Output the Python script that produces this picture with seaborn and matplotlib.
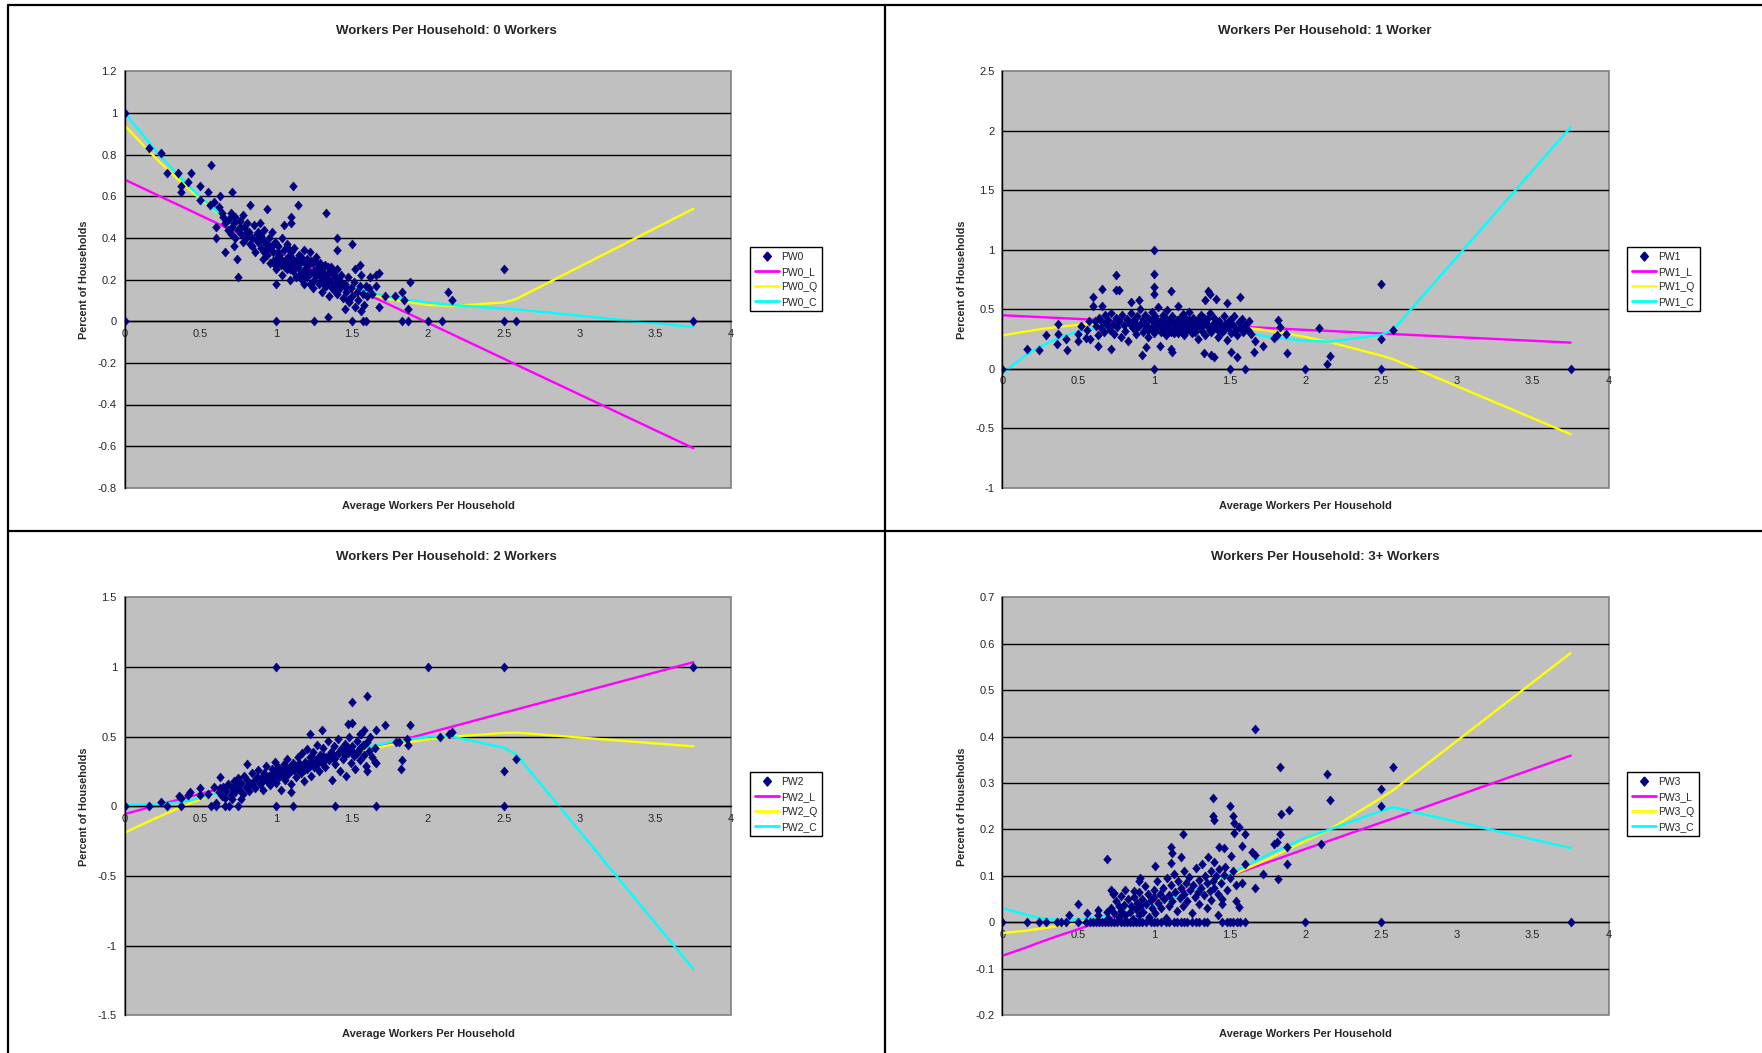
import matplotlib
matplotlib.use("Agg")
import matplotlib.pyplot as plt
from matplotlib.lines import Line2D
from matplotlib.patches import Rectangle
from matplotlib.ticker import FuncFormatter, MultipleLocator
import seaborn as sns

sns.set_style("white")
plt.rcParams['font.family'] = ['Liberation Sans', 'DejaVu Sans']
plt.rcParams['axes.unicode_minus'] = False

# ---------------- data ----------------
titles = ["Workers Per Household: 0 Workers", "Workers Per Household: 1 Worker",
          "Workers Per Household: 2 Workers", "Workers Per Household: 3+ Workers"]
series_names = ["PW0", "PW1", "PW2", "PW3"]
x_label = "Average Workers Per Household"
y_label = "Percent of Households"

pw0_x = [
    0, 0, 0.16, 0.24, 0.28, 0.35, 0.37, 0.37, 0.42, 0.44,
    0.50, 0.50, 0.55, 0.57, 0.56, 0.59, 0.62, 0.63, 0.60, 0.60,
    0.64, 0.66, 0.71, 0.72, 0.74, 0.75, 0.83, 0.94, 1.00, 1.00,
    1.05, 1.11, 1.10, 1.10, 1.14, 1.25, 1.33, 1.34, 1.40, 1.40,
    1.50, 1.50, 1.57, 1.59, 1.83, 1.87, 2.00, 2.09, 2.50, 2.58,
    3.75, 2.50, 2.13, 2.16, 1.88, 1.87, 1.83, 1.84, 1.78, 1.72,
    1.68, 1.66, 1.66, 1.68, 1.62, 1.55, 1.56, 1.52, 1.45, 1.47,
    0.65, 0.66, 0.68, 0.69, 0.70, 0.70, 0.72, 0.73, 0.73, 0.75,
    0.76, 0.77, 0.78, 0.78, 0.79, 0.80, 0.81, 0.82, 0.83, 0.84,
    0.85, 0.86, 0.87, 0.88, 0.89, 0.90, 0.90, 0.91, 0.92, 0.93,
    0.94, 0.95, 0.96, 0.96, 0.97, 0.98, 0.99, 1.00, 1.00, 1.01,
    1.02, 1.03, 1.04, 1.04, 1.05, 1.06, 1.07, 1.07, 1.08, 1.09,
    1.10, 1.10, 1.11, 1.12, 1.13, 1.13, 1.14, 1.15, 1.16, 1.17,
    1.18, 1.18, 1.19, 1.20, 1.20, 1.21, 1.22, 1.23, 1.24, 1.24,
    1.25, 1.26, 1.27, 1.28, 1.28, 1.29, 1.30, 1.30, 1.31, 1.32,
    1.33, 1.34, 1.35, 1.35, 1.36, 1.37, 1.38, 1.39, 1.40, 1.40,
    1.41, 1.42, 1.43, 1.44, 1.45, 1.46, 1.47, 1.48, 1.49, 1.50,
    1.51, 1.52, 1.53, 1.54, 1.55, 1.56, 1.57, 1.58, 1.59, 1.60,
    0.95, 0.98, 1.01, 1.03, 1.06, 1.08, 1.11, 1.14, 1.16, 1.19,
    1.21, 1.23, 1.26, 1.27, 1.29, 1.31, 1.32, 1.34, 1.36, 1.38,
    0.88, 0.91, 0.93, 1.05, 1.09, 1.17, 1.22, 1.33, 1.37, 1.43,
    0.81, 0.84, 0.87, 0.92, 0.97, 1.02, 1.12, 1.15, 1.19, 1.25,
    1.28, 1.33, 1.39, 1.42, 1.46, 0.76, 0.71, 0.99, 1.08, 1.31,
    1.61, 1.63,
]
pw0_y = [
    1.00, 0.00, 0.83, 0.81, 0.71, 0.71, 0.65, 0.62, 0.67, 0.71,
    0.65, 0.58, 0.62, 0.75, 0.56, 0.57, 0.55, 0.60, 0.45, 0.40,
    0.52, 0.33, 0.62, 0.36, 0.30, 0.21, 0.56, 0.54, 0.18, 0.00,
    0.46, 0.65, 0.50, 0.47, 0.56, 0.00, 0.52, 0.02, 0.40, 0.34,
    0.37, 0.00, 0.00, 0.00, 0.00, 0.00, 0.00, 0.00, 0.00, 0.00,
    0.00, 0.25, 0.14, 0.10, 0.19, 0.06, 0.14, 0.10, 0.12, 0.12,
    0.07, 0.17, 0.22, 0.23, 0.21, 0.27, 0.05, 0.07, 0.06, 0.10,
    0.50, 0.47, 0.44, 0.49, 0.52, 0.42, 0.47, 0.50, 0.40, 0.44,
    0.48, 0.42, 0.38, 0.51, 0.45, 0.40, 0.47, 0.43, 0.37, 0.40,
    0.46, 0.33, 0.42, 0.38, 0.47, 0.35, 0.41, 0.30, 0.44, 0.37,
    0.32, 0.40, 0.35, 0.28, 0.43, 0.33, 0.38, 0.30, 0.25, 0.36,
    0.32, 0.27, 0.40, 0.22, 0.34, 0.29, 0.25, 0.37, 0.31, 0.20,
    0.28, 0.33, 0.24, 0.35, 0.29, 0.21, 0.26, 0.32, 0.23, 0.29,
    0.18, 0.34, 0.25, 0.30, 0.21, 0.27, 0.33, 0.23, 0.16, 0.28,
    0.20, 0.31, 0.25, 0.18, 0.22, 0.28, 0.14, 0.24, 0.20, 0.27,
    0.17, 0.23, 0.12, 0.20, 0.26, 0.16, 0.22, 0.18, 0.13, 0.25,
    0.20, 0.16, 0.22, 0.11, 0.18, 0.14, 0.21, 0.09, 0.16, 0.12,
    0.19, 0.25, 0.14, 0.10, 0.17, 0.22, 0.13, 0.08, 0.17, 0.12,
    0.36, 0.29, 0.33, 0.30, 0.26, 0.35, 0.30, 0.27, 0.31, 0.22,
    0.24, 0.29, 0.22, 0.28, 0.19, 0.23, 0.17, 0.26, 0.19, 0.15,
    0.43, 0.39, 0.34, 0.28, 0.25, 0.20, 0.18, 0.21, 0.24, 0.19,
    0.43, 0.36, 0.39, 0.33, 0.36, 0.29, 0.26, 0.22, 0.28, 0.24,
    0.26, 0.19, 0.21, 0.17, 0.16, 0.45, 0.45, 0.27, 0.27, 0.22,
    0.16, 0.13,
]

pw1_x = [
    0, 1.00, 1.00, 0.75, 0.66, 0.75, 0.77, 0.60, 0.60, 0.66,
    1.00, 1.00, 1.11, 1.36, 1.37, 1.41, 1.34, 1.48, 1.57, 0.37,
    0.29, 0.37, 0.16, 0.24, 0.36, 0.42, 0.43, 0.50, 0.50, 0.56,
    0.55, 0.58, 0.63, 0.72, 0.63, 1.00, 0.92, 0.95, 1.04, 1.11,
    1.12, 1.33, 1.40, 1.38, 1.51, 1.55, 1.50, 1.60, 1.66, 1.72,
    1.67, 1.79, 1.81, 1.82, 1.88, 1.87, 1.83, 2.00, 2.09, 2.14,
    2.16, 2.50, 2.50, 2.50, 2.58, 3.75, 0.52, 0.57, 0.90, 0.85,
    0.61, 0.62, 0.64, 0.65, 0.66, 0.67, 0.68, 0.69, 0.70, 0.71,
    0.72, 0.73, 0.74, 0.75, 0.76, 0.77, 0.78, 0.79, 0.80, 0.81,
    0.82, 0.83, 0.84, 0.85, 0.86, 0.87, 0.88, 0.89, 0.90, 0.91,
    0.92, 0.93, 0.94, 0.95, 0.96, 0.97, 0.98, 0.99, 1.00, 1.00,
    1.01, 1.02, 1.03, 1.04, 1.05, 1.06, 1.07, 1.08, 1.08, 1.09,
    1.10, 1.11, 1.12, 1.13, 1.14, 1.15, 1.16, 1.17, 1.18, 1.19,
    1.20, 1.20, 1.21, 1.22, 1.23, 1.24, 1.25, 1.26, 1.27, 1.28,
    1.29, 1.30, 1.31, 1.32, 1.33, 1.34, 1.35, 1.36, 1.37, 1.38,
    1.39, 1.40, 1.41, 1.42, 1.43, 1.44, 1.45, 1.46, 1.47, 1.48,
    1.49, 1.50, 1.51, 1.52, 1.53, 1.54, 1.55, 1.56, 1.57, 1.58,
    1.59, 1.60, 1.62, 1.63, 1.64, 1.05, 1.10, 1.15, 1.22, 1.28,
    1.02, 1.07, 1.13, 1.18, 1.25, 1.31, 1.36, 1.42, 0.95, 0.88,
    0.86, 0.89, 0.93, 0.96, 0.99, 1.03, 1.06, 1.09, 1.12, 1.14,
    1.17, 1.19, 1.21, 1.24, 1.26, 1.29, 1.32, 1.34, 1.37, 1.39,
    1.43, 1.46, 1.49, 1.01, 1.11, 1.16, 1.23, 1.27, 1.33, 1.41,
]
pw1_y = [
    0.00, 1.00, 0.80, 0.79, 0.67, 0.66, 0.66, 0.60, 0.53, 0.53,
    0.69, 0.63, 0.65, 0.65, 0.63, 0.59, 0.58, 0.55, 0.60, 0.38,
    0.28, 0.29, 0.17, 0.16, 0.21, 0.25, 0.16, 0.29, 0.23, 0.33,
    0.26, 0.25, 0.19, 0.17, 0.28, 0.00, 0.12, 0.18, 0.19, 0.17,
    0.14, 0.13, 0.10, 0.12, 0.14, 0.10, 0.00, 0.00, 0.14, 0.19,
    0.23, 0.26, 0.28, 0.41, 0.13, 0.29, 0.35, 0.00, 0.34, 0.04,
    0.11, 0.71, 0.25, 0.00, 0.33, 0.00, 0.36, 0.40, 0.58, 0.56,
    0.40, 0.36, 0.43, 0.34, 0.39, 0.31, 0.45, 0.37, 0.41, 0.33,
    0.47, 0.38, 0.29, 0.43, 0.35, 0.40, 0.27, 0.45, 0.37, 0.32,
    0.42, 0.23, 0.38, 0.47, 0.34, 0.41, 0.29, 0.44, 0.36, 0.50,
    0.39, 0.31, 0.45, 0.37, 0.27, 0.42, 0.34, 0.48, 0.39, 0.30,
    0.44, 0.35, 0.52, 0.40, 0.31, 0.45, 0.37, 0.28, 0.42, 0.49,
    0.34, 0.39, 0.44, 0.30, 0.37, 0.41, 0.53, 0.33, 0.39, 0.46,
    0.28, 0.36, 0.42, 0.33, 0.48, 0.38, 0.30, 0.43, 0.35, 0.40,
    0.25, 0.37, 0.45, 0.32, 0.39, 0.28, 0.42, 0.35, 0.47, 0.31,
    0.38, 0.43, 0.34, 0.27, 0.40, 0.36, 0.31, 0.44, 0.38, 0.24,
    0.35, 0.41, 0.30, 0.37, 0.44, 0.33, 0.28, 0.39, 0.35, 0.42,
    0.31, 0.37, 0.33, 0.40, 0.29, 0.36, 0.41, 0.35, 0.38, 0.34,
    0.40, 0.33, 0.38, 0.32, 0.35, 0.40, 0.37, 0.33, 0.34, 0.38,
    0.40, 0.35, 0.42, 0.33, 0.41, 0.38, 0.32, 0.36, 0.40, 0.33,
    0.43, 0.36, 0.38, 0.34, 0.39, 0.42, 0.36, 0.40, 0.33, 0.35,
    0.36, 0.33, 0.39, 0.34, 0.31, 0.30, 0.41, 0.31, 0.43, 0.39,
]

pw2_x = [
    0, 0.16, 0.24, 0.28, 0.36, 0.37, 0.37, 0.42, 0.43, 0.50,
    0.50, 0.55, 0.59, 0.57, 0.60, 0.60, 0.63, 0.63, 0.66, 0.66,
    0.69, 0.75, 0.71, 0.77, 0.81, 1.00, 1.00, 1.11, 1.10, 1.39,
    1.66, 1.50, 1.60, 1.30, 1.22, 1.47, 1.50, 1.66, 1.72, 1.88,
    1.87, 1.86, 1.81, 1.79, 1.83, 1.82, 1.65, 1.66, 1.60, 2.00,
    2.50, 2.08, 2.14, 2.16, 2.50, 2.58, 2.50, 3.75, 1.58, 1.55,
    0.62, 0.64, 0.65, 0.67, 0.68, 0.70, 0.71, 0.72, 0.73, 0.74,
    0.75, 0.76, 0.77, 0.78, 0.79, 0.80, 0.81, 0.82, 0.83, 0.84,
    0.85, 0.86, 0.87, 0.88, 0.89, 0.90, 0.91, 0.92, 0.93, 0.94,
    0.95, 0.96, 0.97, 0.98, 0.99, 1.00, 1.00, 1.01, 1.02, 1.03,
    1.04, 1.05, 1.06, 1.07, 1.08, 1.09, 1.10, 1.11, 1.12, 1.13,
    1.14, 1.15, 1.16, 1.17, 1.18, 1.19, 1.20, 1.20, 1.21, 1.22,
    1.23, 1.24, 1.25, 1.26, 1.27, 1.28, 1.29, 1.30, 1.31, 1.32,
    1.33, 1.34, 1.35, 1.36, 1.37, 1.38, 1.39, 1.40, 1.41, 1.42,
    1.43, 1.44, 1.45, 1.46, 1.47, 1.48, 1.49, 1.50, 1.51, 1.52,
    1.53, 1.54, 1.55, 1.56, 1.57, 1.58, 1.59, 1.60, 1.61, 1.62,
    1.63, 1.65, 1.02, 1.08, 1.15, 1.22, 1.28, 1.35, 1.44, 0.97,
    1.05, 1.12, 1.18, 1.25, 1.31, 1.38, 1.47, 1.53, 0.90, 0.84,
    0.92, 0.96, 1.01, 1.06, 1.10, 1.14, 1.19, 1.23, 1.27, 1.32,
    1.36, 1.41, 1.45, 1.50, 1.55, 1.58,
]
pw2_y = [
    0.00, 0.00, 0.03, 0.00, 0.07, 0.06, 0.00, 0.08, 0.10, 0.13,
    0.08, 0.085, 0.14, 0.00, 0.00, 0.02, 0.21, 0.13, 0.06, 0.00,
    0.00, 0.00, 0.05, 0.05, 0.30, 1.00, 0.00, 0.00, 0.10, 0.00,
    0.00, 0.75, 0.79, 0.55, 0.52, 0.59, 0.60, 0.55, 0.58, 0.58,
    0.44, 0.48, 0.46, 0.46, 0.33, 0.27, 0.32, 0.31, 0.25, 1.00,
    1.00, 0.50, 0.52, 0.53, 0.25, 0.34, 0.00, 1.00, 0.55, 0.52,
    0.10, 0.07, 0.14, 0.11, 0.16, 0.08, 0.13, 0.18, 0.10, 0.15,
    0.20, 0.12, 0.17, 0.09, 0.22, 0.14, 0.19, 0.11, 0.16, 0.24,
    0.18, 0.13, 0.21, 0.26, 0.16, 0.20, 0.12, 0.24, 0.29, 0.18,
    0.22, 0.15, 0.27, 0.20, 0.32, 0.24, 0.17, 0.28, 0.21, 0.12,
    0.25, 0.30, 0.19, 0.34, 0.23, 0.28, 0.16, 0.31, 0.26, 0.21,
    0.35, 0.29, 0.24, 0.38, 0.18, 0.32, 0.27, 0.41, 0.30, 0.35,
    0.22, 0.39, 0.28, 0.33, 0.44, 0.25, 0.37, 0.31, 0.42, 0.28,
    0.35, 0.47, 0.33, 0.39, 0.19, 0.43, 0.30, 0.37, 0.48, 0.25,
    0.41, 0.34, 0.45, 0.22, 0.38, 0.50, 0.31, 0.43, 0.36, 0.27,
    0.47, 0.40, 0.33, 0.52, 0.44, 0.37, 0.29, 0.46, 0.40, 0.50,
    0.35, 0.42, 0.26, 0.27, 0.31, 0.29, 0.33, 0.36, 0.40, 0.23,
    0.22, 0.28, 0.26, 0.34, 0.36, 0.34, 0.42, 0.38, 0.17, 0.16,
    0.20, 0.19, 0.23, 0.26, 0.25, 0.27, 0.29, 0.31, 0.30, 0.33,
    0.36, 0.38, 0.37, 0.40, 0.42, 0.44,
]

pw3_x = [
    0, 0.165, 0.24, 0.29, 0.36, 0.39, 0.42, 0.44, 0.50, 0.50,
    0.56, 0.63, 0.63, 0.69, 0.69, 0.72, 0.73, 0.74, 0.81, 0.78,
    0.77, 0.87, 0.91, 0.90, 1.01, 1.11, 1.12, 1.19, 1.18, 1.11,
    1.39, 1.39, 1.40, 1.50, 1.52, 1.53, 1.56, 1.60, 1.53, 1.43,
    1.46, 1.51, 1.58, 1.60, 1.65, 1.67, 1.72, 1.67, 1.58, 1.54,
    1.56, 1.42, 1.45, 1.84, 1.89, 1.83, 1.81, 1.79, 1.88, 1.88,
    1.82, 2.10, 2.16, 2.50, 2.50, 2.00, 2.50, 1.67, 1.83, 2.14,
    2.58, 3.75,
    0.55, 0.58, 0.60, 0.62, 0.64, 0.66, 0.68, 0.70, 0.72, 0.74,
    0.76, 0.78, 0.80, 0.82, 0.84, 0.86, 0.88, 0.90, 0.92, 0.95,
    0.98, 1.00, 1.02, 1.05, 1.08, 1.10, 1.13, 1.15, 1.18, 1.20,
    1.22, 1.25, 1.28, 1.30, 1.33, 1.35, 1.45, 1.48, 1.50, 1.52,
    1.55, 1.57, 1.60,
    0.70, 0.72, 0.74, 0.75, 0.77, 0.78, 0.80, 0.81, 0.83, 0.84,
    0.85, 0.86, 0.87, 0.88, 0.89, 0.90, 0.90,
    0.91, 0.92, 0.93, 0.94, 0.95, 0.96, 0.97, 0.98, 0.99, 1.00,
    1.00, 1.01, 1.02, 1.03, 1.04, 1.05, 1.06, 1.07, 1.08, 1.09,
    1.10, 1.10,
    1.11, 1.12, 1.13, 1.14, 1.15, 1.16, 1.17, 1.18, 1.19, 1.20,
    1.20, 1.21, 1.22, 1.23, 1.24, 1.25, 1.26, 1.27, 1.28, 1.29,
    1.30, 1.30,
    1.31, 1.32, 1.33, 1.34, 1.35, 1.35, 1.36, 1.37, 1.38, 1.38,
    1.39, 1.40, 1.40, 1.41, 1.42, 1.43, 1.44, 1.45, 1.46, 1.47,
    1.48, 1.50, 1.52, 1.54,
]
pw3_y = [
    0.000, 0.000, 0.000, 0.000, 0.000, 0.000, 0.000, 0.015, 0.040, 0.000,
    0.020, 0.027, 0.015, 0.137, 0.023, 0.070, 0.060, 0.063, 0.070, 0.056,
    0.036, 0.067, 0.096, 0.088, 0.121, 0.162, 0.150, 0.190, 0.140, 0.128,
    0.268, 0.228, 0.220, 0.250, 0.230, 0.215, 0.205, 0.190, 0.193, 0.162,
    0.160, 0.143, 0.165, 0.125, 0.152, 0.145, 0.104, 0.074, 0.085, 0.046,
    0.032, 0.016, 0.039, 0.233, 0.242, 0.190, 0.174, 0.168, 0.162, 0.126,
    0.093, 0.168, 0.264, 0.288, 0.250, 0.000, 0.000, 0.417, 0.334, 0.320,
    0.334, 0.000,
    0.000, 0.000, 0.000, 0.000, 0.000, 0.000, 0.000, 0.000, 0.000, 0.000,
    0.000, 0.000, 0.000, 0.000, 0.000, 0.000, 0.000, 0.000, 0.000, 0.000,
    0.000, 0.000, 0.000, 0.000, 0.000, 0.000, 0.000, 0.000, 0.000, 0.000,
    0.000, 0.000, 0.000, 0.000, 0.000, 0.000, 0.000, 0.000, 0.000, 0.000,
    0.000, 0.000, 0.000,
    0.010, 0.030, 0.020, 0.045, 0.012, 0.025, 0.038, 0.015, 0.050, 0.022,
    0.035, 0.008, 0.055, 0.028, 0.042, 0.016, 0.065,
    0.035, 0.050, 0.022, 0.078, 0.040, 0.060, 0.012, 0.048, 0.030, 0.070,
    0.055, 0.020, 0.088, 0.042, 0.062, 0.030, 0.075, 0.050, 0.010, 0.095,
    0.058, 0.036,
    0.080, 0.045, 0.105, 0.065, 0.025, 0.090, 0.052, 0.075, 0.035, 0.110,
    0.062, 0.085, 0.045, 0.098, 0.070, 0.020, 0.080, 0.055, 0.118, 0.065,
    0.040, 0.092,
    0.075, 0.125, 0.058, 0.100, 0.030, 0.085, 0.140, 0.068, 0.110, 0.048,
    0.090, 0.075, 0.130, 0.100, 0.060, 0.115, 0.085, 0.050, 0.102, 0.120,
    0.070, 0.095, 0.110, 0.080,
]

# fitted curves (linear, quadratic, cubic) read at the data x positions
fit_x = [0, 0.16, 0.24, 0.37, 0.5, 0.75, 1.0, 1.25, 1.5, 1.75, 2.0, 2.16, 2.5, 2.58, 3.75]
pw0_l = [0.68, 0.625, 0.597, 0.553, 0.508, 0.422, 0.336, 0.25, 0.164, 0.078, -0.008, -0.063, -0.18, -0.208, -0.61]
pw0_q = [0.94, 0.817, 0.758, 0.669, 0.586, 0.443, 0.324, 0.227, 0.154, 0.105, 0.078, 0.073, 0.09, 0.106, 0.54]
pw0_c = [1.0, 0.86, 0.79, 0.69, 0.595, 0.44, 0.32, 0.23, 0.16, 0.115, 0.09, 0.078, 0.06, 0.057, -0.028]
pw1_l = [0.45, 0.44, 0.435, 0.427, 0.419, 0.404, 0.389, 0.373, 0.358, 0.343, 0.327, 0.318, 0.297, 0.292, 0.22]
pw1_q = [0.28, 0.315, 0.331, 0.352, 0.369, 0.391, 0.397, 0.388, 0.363, 0.323, 0.268, 0.224, 0.111, 0.08, -0.55]
pw1_c = [-0.04, 0.12, 0.18, 0.26, 0.31, 0.375, 0.40, 0.385, 0.33, 0.27, 0.235, 0.228, 0.285, 0.33, 2.03]
pw2_l = [-0.056, -0.009, 0.014, 0.052, 0.089, 0.162, 0.235, 0.307, 0.38, 0.453, 0.525, 0.572, 0.671, 0.694, 1.034]
pw2_q = [-0.19, -0.108, -0.069, -0.007, 0.05, 0.152, 0.24, 0.319, 0.386, 0.439, 0.48, 0.50, 0.526, 0.529, 0.43]
pw2_c = [0.01, 0.012, 0.015, 0.03, 0.06, 0.14, 0.22, 0.31, 0.40, 0.46, 0.50, 0.50, 0.42, 0.375, -1.17]
pw3_l = [-0.072, -0.054, -0.044, -0.029, -0.015, 0.014, 0.043, 0.072, 0.100, 0.129, 0.158, 0.176, 0.215, 0.224, 0.359]
pw3_q = [-0.023, -0.018, -0.014, -0.008, 0.0, 0.018, 0.040, 0.068, 0.0995, 0.136, 0.175, 0.20, 0.268, 0.285, 0.58]
pw3_c = [0.031, 0.016, 0.010, 0.005, 0.006, 0.017, 0.038, 0.068, 0.104, 0.145, 0.182, 0.20, 0.24, 0.248, 0.16]

x_ticks = [0, 0.5, 1, 1.5, 2, 2.5, 3, 3.5, 4]
y_ranges = [(-0.8, 1.2, 0.2), (-1.0, 2.5, 0.5), (-1.5, 1.5, 0.5), (-0.2, 0.7, 0.1)]

scatter_data = [(pw0_x, pw0_y), (pw1_x, pw1_y), (pw2_x, pw2_y), (pw3_x, pw3_y)]
fit_data = [(pw0_l, pw0_q, pw0_c), (pw1_l, pw1_q, pw1_c), (pw2_l, pw2_q, pw2_c), (pw3_l, pw3_q, pw3_c)]

# ---------------- styling ----------------
W, H = 1762, 1053
NAVY = "#000080"
LINE_COLORS = ["#FF00FF", "#FFFF00", "#00FFFF"]
DIAMOND = [(0, 1), (0.85, 0), (0, -1), (-0.85, 0), (0, 1)]
# plot-area boxes in pixels: left, top, right, bottom
boxes = [(124.6, 71.3, 731.3, 487.8), (1002.3, 71.3, 1608.5, 487.8),
         (124.6, 597.3, 731.3, 1015.2), (1002.3, 597.3, 1608.5, 1015.2)]
title_pos = [(446, 31.5), (1325, 31.5), (446, 557.3), (1325, 557.3)]

fig = plt.figure(figsize=(W / 100, H / 100), dpi=100)
fig.patch.set_facecolor("white")


def fmt(v, p):
    v = round(v, 2) + 0.0
    return f"{v:g}"


for i in range(4):
    l, t, r, b = boxes[i]
    ax = fig.add_axes([l / W, 1 - b / H, (r - l) / W, (b - t) / H])
    ax.set_facecolor("#C0C0C0")
    ymin, ymax, step = y_ranges[i]
    ax.set_xlim(0, 4)
    ax.set_ylim(ymin, ymax)
    ax.xaxis.set_major_locator(MultipleLocator(0.5))
    ax.yaxis.set_major_locator(MultipleLocator(step))
    ax.xaxis.set_major_formatter(FuncFormatter(fmt))
    ax.yaxis.set_major_formatter(FuncFormatter(fmt))

    n = int(round((ymax - ymin) / step))
    for k in range(1, n):
        v = ymin + k * step
        ax.axhline(v, color="black", lw=1.0, zorder=1)

    xs, ys = scatter_data[i]
    for fy, col in zip(fit_data[i], LINE_COLORS):
        sns.lineplot(x=fit_x, y=fy, ax=ax, color=col, lw=1.7, estimator=None,
                     sort=False, zorder=2, legend=False)
    sns.scatterplot(x=xs, y=ys, ax=ax, marker=DIAMOND, s=44, color=NAVY,
                    edgecolor=NAVY, linewidth=0.3, zorder=3, legend=False)

    ax.set_xlim(0, 4)
    ax.set_ylim(ymin, ymax)
    ax.set_xlabel("")
    ax.set_ylabel("")

    for s in ["top", "right"]:
        ax.spines[s].set_visible(False)
    ax.spines["left"].set_color("black")
    ax.spines["left"].set_linewidth(1.0)
    ax.spines["left"].set_zorder(4)
    ax.spines["bottom"].set_position(("data", 0))
    ax.spines["bottom"].set_color("black")
    ax.spines["bottom"].set_linewidth(1.0)
    ax.add_patch(Rectangle((0, 0), 1, 1, transform=ax.transAxes, fill=False,
                           edgecolor="#808080", lw=1.2, zorder=0.5, clip_on=False))
    ax.tick_params(axis="both", direction="out", length=3.5, width=0.8,
                   color="black", labelsize=8, pad=2)
    ax.set_xticks(x_ticks)

    ax.text(0.5, -18.5 / (b - t), x_label, transform=ax.transAxes,
            ha="center", va="center", fontsize=8, fontweight="bold")
    ax.text((84.3 - 124.6) / (r - l), 0.5, y_label, transform=ax.transAxes,
            rotation=90, ha="center", va="center", fontsize=7.8, fontweight="bold")

    name = series_names[i]
    handles = [Line2D([], [], ls="none", marker=DIAMOND, ms=6.5, mfc=NAVY, mec=NAVY)]
    handles += [Line2D([], [], color=c, lw=2) for c in LINE_COLORS]
    labels = [name, name + "_L", name + "_Q", name + "_C"]
    leg_top = 247 if i < 2 else 772
    leg = ax.legend(handles, labels, loc="upper left",
                    bbox_to_anchor=(1.031, (b - leg_top) / (b - t)),
                    frameon=True, fancybox=False, edgecolor="black", framealpha=1,
                    fontsize=7.5, handlelength=2.3, handletextpad=0.25,
                    borderpad=0.45, labelspacing=0.48, borderaxespad=0)
    leg.get_frame().set_linewidth(1.0)

    tx, ty = title_pos[i]
    fig.text(tx / W, 1 - ty / H, titles[i], ha="center", va="center",
             fontsize=9.5, fontweight="bold")

# panel separators / borders
border_kw = dict(color="black", lw=1.6)
fig.add_artist(Line2D([8 / W, 1], [1 - 5 / H, 1 - 5 / H], **border_kw))
fig.add_artist(Line2D([8 / W, 8 / W], [0, 1 - 5 / H], **border_kw))
fig.add_artist(Line2D([885 / W, 885 / W], [0, 1 - 5 / H], **border_kw))
fig.add_artist(Line2D([8 / W, 1], [1 - 531 / H, 1 - 531 / H], **border_kw))

fig.savefig("out.png", dpi=100, facecolor="white")
